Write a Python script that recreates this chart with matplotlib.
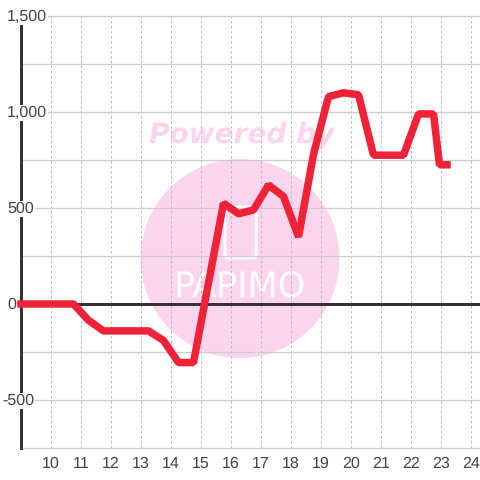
import matplotlib
matplotlib.use("Agg")
import matplotlib.pyplot as plt
from matplotlib.patches import Circle, FancyBboxPatch

hours = [9.0, 10.75, 11.25, 11.75, 13.25, 13.75, 14.25, 14.75, 15.75, 16.25,
         16.75, 17.25, 17.75, 18.25, 18.75, 19.25, 19.75, 20.25, 20.75,
         21.75, 22.25, 22.75, 22.95, 23.2]
values = [0, 0, -85, -140, -140, -190, -305, -305, 525, 470,
          490, 620, 560, 350, 780, 1080, 1100, 1090, 775,
          775, 990, 990, 725, 725]
x_ticks = list(range(10, 25))
y_grid = [-750, -500, -250, 0, 250, 500, 750, 1000, 1250, 1500]
y_labels = {1500: "1,500", 1000: "1,000", 500: "500", 0: "0", -500: "-500"}

PINK = "#FBD5EE"
GRID = "#CCCCCC"
DARK = "#333333"
RED = "#F02238"
TEXT = "#444444"
PX = 72 / 100


def main():
    plt.rcParams["font.family"] = ["Liberation Sans", "DejaVu Sans"]
    plt.rcParams["text.hinting"] = "no_hinting"
    plt.rcParams["text.hinting_factor"] = 1
    fig = plt.figure(figsize=(4.8, 4.8), dpi=100)
    ax = fig.add_axes([20.5 / 480, 32 / 480, 459.5 / 480, 432 / 480])
    ax.set_xlim(8.983, 24.3)
    ax.set_ylim(-750, 1500)
    ax.patch.set_visible(False)

    # watermark, placed in figure pixels
    full = fig.add_axes([0, 0, 1, 1], zorder=-1)
    full.set_xlim(0, 480)
    full.set_ylim(480, 0)
    full.axis("off")
    full.add_patch(Circle((240, 258.5), 99.5, color=PINK, lw=0))
    full.add_patch(FancyBboxPatch((225, 207), 31, 51,
                                  boxstyle="round,pad=0,rounding_size=3",
                                  fc="none", ec="white", lw=3 * PX))
    full.text(241.5, 135, "Powered by", color=PINK, fontsize=20.2,
              family="DejaVu Sans", weight="bold", style="italic",
              ha="center", va="center")
    full.text(240, 288, "PAPIMO", color="white", fontsize=25,
              family="DejaVu Sans", ha="center", va="center")

    ax.set_xticks(x_ticks)
    ax.set_yticks([])
    ax.tick_params(axis="x", length=0, pad=6, labelsize=11.4, labelcolor=TEXT)
    for t in x_ticks:
        ax.axvline(t, color="#BBBBBB", lw=1 * PX, ls=(0, (2.5, 2.5)), zorder=1)
    for v in y_grid:
        ax.axhline(v, color=GRID, lw=1.2 * PX, zorder=1, clip_on=False)
    for s in ["top", "right", "bottom"]:
        ax.spines[s].set_visible(False)
    ax.spines["left"].set_linewidth(3 * PX)
    ax.spines["left"].set_color(DARK)
    ax.spines["left"].set_zorder(2)
    ax.axhline(0, color=DARK, lw=3 * PX, zorder=2)

    trans = ax.get_yaxis_transform()
    for v, label in y_labels.items():
        # labels start at x=7px, the minus sign hangs out to the left
        left = 2 if v < 0 else 7
        ax.text((left - 20.5) / 459.5, v - 5, label, transform=trans, ha="left",
                va="center", fontsize=11.4, color=TEXT, zorder=3, clip_on=False,
                bbox=dict(fc="white", ec="none", pad=0.6))

    ax.plot(hours, values, color=RED, lw=7.5 * PX, zorder=4, clip_on=False,
            solid_joinstyle="bevel", solid_capstyle="projecting")
    fig.savefig("out.png", dpi=100)


if __name__ == "__main__":
    main()
